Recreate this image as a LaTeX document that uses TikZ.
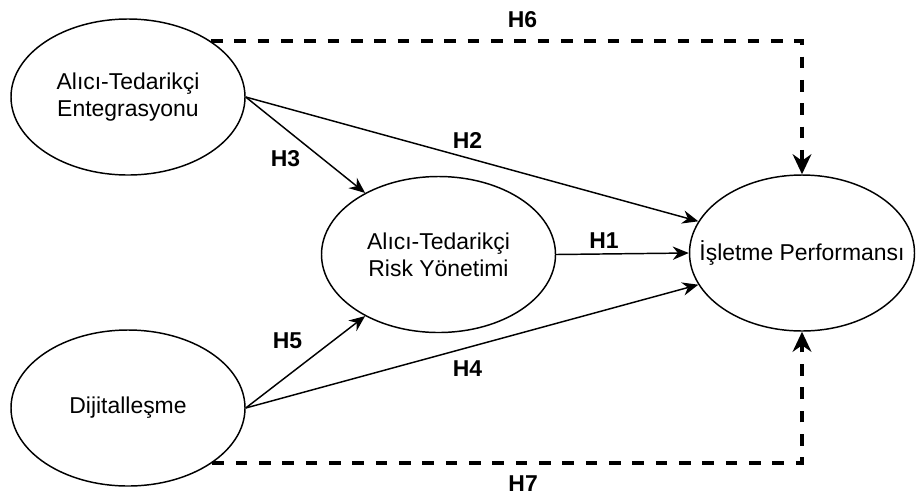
\documentclass[tikz,border=0pt]{standalone}
\usepackage{fontspec}
\setmainfont{Liberation Sans}
\usetikzlibrary{shapes.geometric,arrows.meta}

\begin{document}
\begin{tikzpicture}[x=0.75pt,y=-0.75pt,
    construct/.style={ellipse, draw, line width=1.1pt, minimum width=175.5pt, minimum height=117pt,
        inner sep=0pt, align=center, font=\fontsize{17.2}{20.3}\selectfont},
    hypo/.style={-{Stealth[length=12pt,width=10pt]}, line width=1.1pt},
    control/.style={-{Stealth[length=15pt,width=14pt]}, line width=2.7pt, dash pattern=on 8.75pt off 8.75pt},
    hlabel/.style={font=\fontsize{17.2}{20.3}\selectfont\bfseries}]
    %\draw[help lines] (0,0) grid (916,497);
    \useasboundingbox (0,0) rectangle (916,497);

    % constructs
    \node[construct] (integration) at (128,97) {Alıcı-Tedarikçi\\Entegrasyonu};
    \node[construct] (digital) at (128,408) {Dijitalleşme};
    \node[construct] (riskmgmt) at (438.5,254.5) {Alıcı-Tedarikçi\\Risk Yönetimi};
    \node[construct, minimum width=168.75pt, inner xsep=-18pt] (perf) at (802,253) {İşletme Performansı};

    % direct and mediated paths
    \draw[hypo] (integration.east) -- node[hlabel, pos=0.49, above=3pt] {H2} (perf.163);
    \draw[hypo] (integration.east) -- node[hlabel, pos=0.5, below left] {H3} (riskmgmt.140);
    \draw[hypo] (riskmgmt.east) -- node[hlabel, pos=0.36, above] {H1} (perf.west);
    \draw[hypo] (digital.east) -- node[hlabel, pos=0.55, above left=3pt] {H5} (riskmgmt.220);
    \draw[hypo] (digital.east) -- node[hlabel, pos=0.49, below=6pt] {H4} (perf.197);

    % dashed paths
    \draw[control] (integration.34) -- node[hlabel, pos=0.527, above=5pt] {H6}
        (integration.34 -| perf.north) -- (perf.north);
    \draw[control] (digital.-33) -- node[hlabel, pos=0.527, below=5pt] {H7}
        (digital.-33 -| perf.south) -- (perf.south);
\end{tikzpicture}
\end{document}
